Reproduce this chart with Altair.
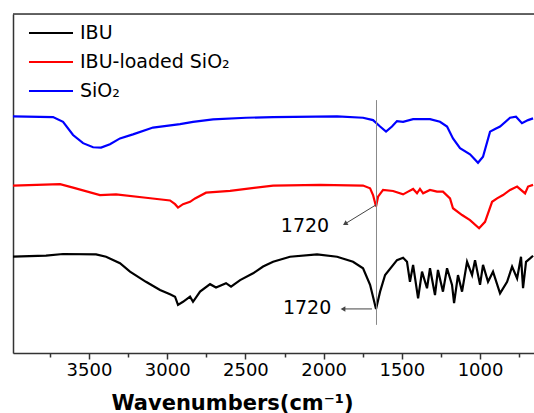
import altair as alt
import pandas as pd

# ---- data (wavenumber cm^-1, transmittance a.u.) ----
sio2_wn = [3986, 3730, 3666, 3602, 3538, 3474, 3423, 3366, 3302, 3219, 3091, 2918, 2835,
           2707, 2496, 2323, 1914, 1748, 1684, 1639, 1601, 1563, 1531, 1492, 1428, 1320,
           1256, 1211, 1173, 1128, 1064, 1013, 981, 936, 904, 872, 808, 770, 732, 693, 661]
sio2_t = [69.8, 69.6, 68.2, 64.3, 61.9, 60.7, 60.6, 61.6, 63.3, 64.5, 66.5, 67.5, 68.2,
          68.9, 69.4, 69.6, 69.8, 69.4, 68.7, 66.8, 65.3, 66.8, 68.4, 68.2, 69.0, 69.0,
          68.2, 66.8, 63.3, 60.4, 58.6, 56.1, 57.9, 65.3, 66.1, 66.8, 69.4, 69.7, 67.8, 68.7, 69.2]

load_wn = [3986, 3685, 3602, 3430, 3327, 3136, 2982, 2950, 2931, 2899, 2854, 2822, 2752,
           2598, 2496, 2323, 2023, 1748, 1703, 1684, 1665, 1652, 1620, 1556, 1492, 1460,
           1428, 1403, 1384, 1364, 1320, 1275, 1237, 1192, 1173, 1115, 1064, 1006, 968,
           923, 891, 853, 808, 763, 712, 693, 661]
load_t = [49.4, 49.8, 48.8, 46.6, 46.8, 45.8, 45.0, 43.9, 42.9, 43.9, 44.6, 45.6, 47.3,
          47.8, 48.4, 49.4, 49.6, 49.4, 48.6, 46.6, 43.2, 46.1, 48.1, 47.8, 46.8, 47.6,
          48.4, 47.1, 48.4, 47.1, 48.1, 47.6, 47.6, 45.6, 42.7, 40.7, 39.2, 36.8, 38.7,
          44.6, 45.6, 46.6, 48.1, 49.1, 47.1, 49.1, 49.6]

ibu_wn = [3986, 3775, 3666, 3455, 3391, 3302, 3238, 3136, 3046, 2982, 2950, 2931, 2899,
          2854, 2835, 2790, 2726, 2688, 2624, 2592, 2534, 2451, 2387, 2323, 2215, 2042,
          1914, 1812, 1748, 1703, 1665, 1639, 1607, 1531, 1492, 1467, 1448, 1428, 1396,
          1371, 1339, 1320, 1288, 1269, 1237, 1211, 1179, 1166, 1141, 1115, 1083, 1051,
          1032, 1000, 981, 949, 917, 872, 827, 795, 763, 738, 725, 706, 680, 661]
ibu_t = [28.4, 28.7, 29.2, 29.1, 28.4, 26.5, 24.0, 21.0, 18.6, 17.3, 16.6, 14.2, 15.1,
         16.6, 15.1, 18.1, 20.3, 19.3, 20.6, 19.6, 21.5, 23.5, 25.5, 26.9, 28.4, 29.1,
         28.4, 26.9, 25.0, 20.1, 13.0, 18.1, 23.0, 27.4, 28.1, 26.9, 21.0, 26.0, 16.1,
         24.0, 19.1, 25.0, 17.1, 24.5, 18.1, 25.0, 20.1, 14.7, 23.0, 18.1, 26.9, 23.0,
         27.4, 20.1, 26.0, 21.0, 24.0, 17.6, 21.0, 25.5, 22.0, 28.4, 19.1, 26.9, 27.9, 28.7]

series_names = ["IBU", "IBU-loaded SiO\u2082", "SiO\u2082"]
series_colors = ["#000000", "#ff0000", "#0000ff"]

# marker line at the C=O band and the two arrow labels
marker_wn = [1662]
marker_t = [74.6, 8.3]
label_text = ["1720", "1720"]
label_wn = [2119, 2106]
label_t = [37.5, 13.3]
arrow_from_wn = [1665, 1691]
arrow_from_t = [43.7, 13.0]
arrow_to_wn = [1863, 1876]
arrow_to_t = [38.1, 13.0]
arrow_angle = [238, 270]

x_ticks = [3750, 3500, 3250, 3000, 2750, 2500, 2250, 2000, 1750, 1500, 1250, 1000, 750]

rows = []
for name, wn, t in zip(series_names, [ibu_wn, load_wn, sio2_wn], [ibu_t, load_t, sio2_t]):
    for i, (w, v) in enumerate(zip(wn, t)):
        rows.append({"series": name, "wn": w, "t": v, "i": i})
spec_df = pd.DataFrame(rows)

marker_df = pd.DataFrame({"wn": marker_wn, "t": [marker_t[0]], "t2": [marker_t[1]]})
label_df = pd.DataFrame({"text": label_text, "wn": label_wn, "t": label_t})
arrow_df = pd.DataFrame({"wn": arrow_from_wn, "t": arrow_from_t,
                         "wn2": arrow_to_wn, "t2": arrow_to_t, "ang": arrow_angle})

FONT = "DejaVu Sans"
W, H = 521, 339

xscale = alt.Scale(domain=[655, 3986], reverse=True, nice=False, zero=False)
yscale = alt.Scale(domain=[0, 100], nice=False, zero=False)

xaxis = alt.Axis(
    values=x_ticks,
    labelExpr="datum.value % 500 === 0 ? datum.label : ''",
    format="d",
    title="Wavenumbers(cm\u207b\u00b9)",
    titleFont=FONT, titleFontSize=21, titleFontWeight="bold", titleColor="#000",
    titleX=219, titleY=56, titleAlign="center", titleBaseline="alphabetic",
    labelFont=FONT, labelFontSize=18, labelColor="#000", labelPadding=2,
    labelFlush=False, labelOverlap=False,
    tickColor="#333", tickWidth=1.5,
    tickSize={"condition": {"test": "datum.value % 500 === 0", "value": 6}, "value": 4},
    domainColor="#333", domainWidth=1.5, grid=False,
)
yaxis = alt.Axis(labels=False, ticks=False, title=None, grid=False,
                 domainColor="#333", domainWidth=1.5)

lines = alt.Chart(spec_df).mark_line(strokeWidth=2.2).encode(
    x=alt.X("wn:Q", scale=xscale, axis=xaxis),
    y=alt.Y("t:Q", scale=yscale, axis=yaxis),
    color=alt.Color("series:N",
                    scale=alt.Scale(domain=series_names, range=series_colors),
                    legend=alt.Legend(
                        title=None, orient="none", legendX=28, legendY=9,
                        symbolType="M-2.5,0H2.5", symbolSize=310, symbolStrokeWidth=2.2,
                        labelFont=FONT, labelFontSize=19, labelColor="#000",
                        labelOffset=19, rowPadding=9, padding=0)),
    order="i:Q",
)

marker = alt.Chart(marker_df).mark_rule(color="#888888", strokeWidth=1).encode(
    x="wn:Q", y="t:Q", y2="t2:Q")

arrows = alt.Chart(arrow_df).mark_rule(color="#444444", strokeWidth=1).encode(
    x="wn:Q", y="t:Q", x2="wn2:Q", y2="t2:Q")

heads = alt.Chart(arrow_df).mark_point(shape="triangle-up", filled=True, size=30,
                                       color="#444444", opacity=1).encode(
    x="wn2:Q", y="t2:Q", angle=alt.Angle("ang:Q", scale=None))

labels = alt.Chart(label_df).mark_text(font=FONT, fontSize=19, color="#000").encode(
    x="wn:Q", y="t:Q", text="text:N")

top_border = alt.Chart(marker_df).mark_rule(color="#333", strokeWidth=1.5).encode(
    x=alt.value(0), x2=alt.value(W), y=alt.value(0))

chart = alt.layer(lines, marker, arrows, heads, labels, top_border).properties(
    width=W, height=H,
    autosize=alt.AutoSizeParams(type="none"),
    padding={"left": 13, "top": 14, "right": 0, "bottom": 60},
).configure_view(stroke=None).configure(background="white")

chart.save("out.html", embed_options={"renderer": "svg", "actions": False})
